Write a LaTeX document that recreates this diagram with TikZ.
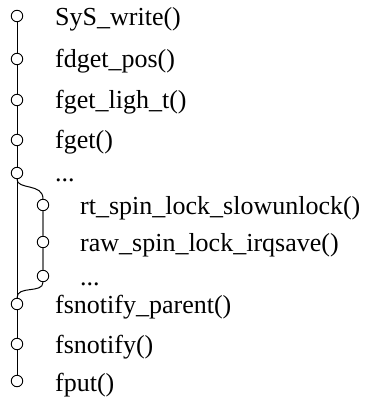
\documentclass[tikz,border=0pt]{standalone}
\usepackage{fontspec}
\setmainfont{Liberation Serif}
\begin{document}
\begin{tikzpicture}[x=1pt,y=-1pt,
  dot/.style={circle,draw=black,fill=white,line width=0.9pt,minimum size=11.5pt,inner sep=0pt},
  lbl/.style={anchor=base west,inner sep=0pt,font=\fontsize{26}{28}\selectfont},
  mainline/.style={line width=1pt,black},
  subline/.style={line width=1.3pt,black!55}]
\useasboundingbox (0,0) rectangle (365,403);
% main column nodes
\node[dot] (a) at (17,16) {};
\node[dot] (b) at (17,59) {};
\node[dot] (c) at (17,100) {};
\node[dot] (d) at (17,140) {};
\node[dot] (e) at (17,173) {};
\node[dot] (h) at (17,304) {};
\node[dot] (i) at (17,344) {};
\node[dot] (j) at (17,381) {};
% inner column nodes
\node[dot] (f1) at (43,205) {};
\node[dot] (f2) at (43,242) {};
\node[dot] (f3) at (43,276) {};
% connectors
\draw[mainline] (a) -- (b) -- (c) -- (d) -- (e) -- (h) -- (i) -- (j);
\draw[subline] (f1) -- (f2) -- (f3);
\draw[mainline] (e.south) .. controls (17,190) and (43,183) .. (f1.north);
\draw[mainline] (f3.south) .. controls (43,294) and (17,285) .. (h.north);
% labels
\node[lbl] (ta) at (55,26) {SyS\_write()};
\node[lbl] (tb) at (55,68) {fdget\_pos()};
\node[lbl] (tc) at (55,109) {fget\_ligh\_t()};
\node[lbl] (td) at (55,149) {fget()};
\node[lbl] (te) at (55,181) {...};
\node[lbl] (tf1) at (80,214) {rt\_spin\_lock\_slowunlock()};
\node[lbl] (tf2) at (80,251) {raw\_spin\_lock\_irqsave()};
\node[lbl] (tf3) at (80,285) {...};
\node[lbl] (th) at (55,313) {fsnotify\_parent()};
\node[lbl] (ti) at (55,353) {fsnotify()};
\node[lbl] (tj) at (55,391) {fput()};
\end{tikzpicture}
\end{document}
